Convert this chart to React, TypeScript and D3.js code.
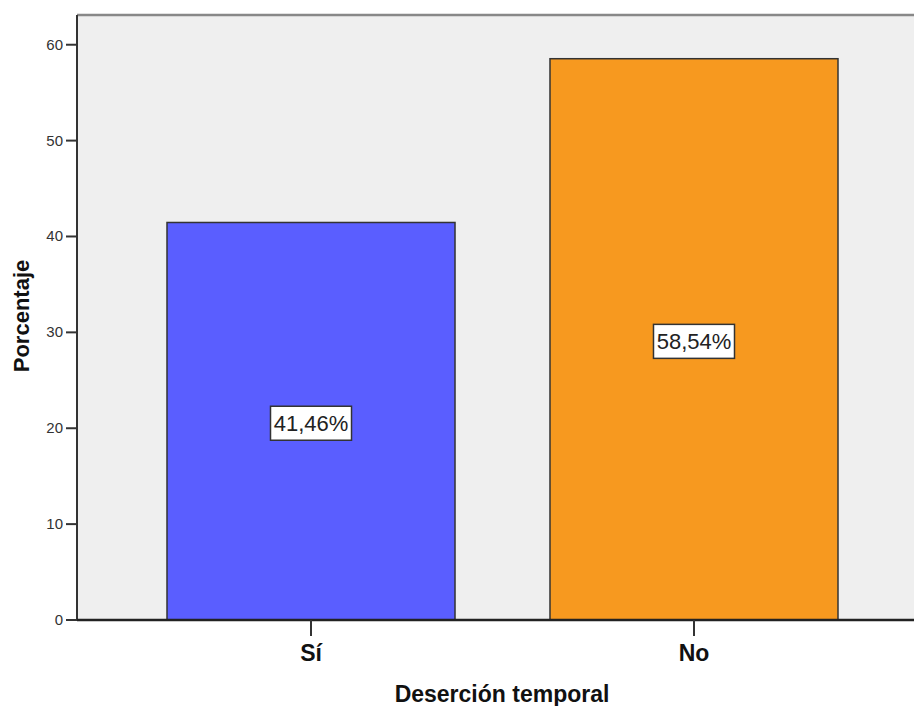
import * as d3 from "d3";

// data
const categories = ["Sí", "No"];
const percents = [41.46, 58.54];
const percentLabels = ["41,46%", "58,54%"];
const yTicks = [0, 10, 20, 30, 40, 50, 60];
const barColors = ["#5A5EFF", "#F7991F"];

const W = 914;
const H = 706;
const plot = { left: 77, top: 15, bottom: 620 };
const font = "'Liberation Sans', Arial, sans-serif";

export default function App() {
  const x = d3.scaleBand<string>()
    .domain(categories)
    .range([plot.left, 928])
    .paddingInner(0.248)
    .paddingOuter(0.235);
  const y = d3.scaleLinear().domain([0, 63.1]).range([plot.bottom, plot.top]);

  return (
    <svg width={W} height={H} style={{ position: "absolute", left: 0, top: 0, background: "#fff" }}>
      {/* plot background */}
      <rect x={plot.left} y={plot.top} width={W - plot.left} height={plot.bottom - plot.top} fill="#EFEFEF" />
      <line x1={plot.left} x2={W} y1={plot.top} y2={plot.top} stroke="#888" strokeWidth={2.5} />

      {/* bars */}
      {categories.map((c, i) => (
        <g key={c}>
          <rect
            x={x(c)}
            y={y(percents[i])}
            width={x.bandwidth()}
            height={y(0) - y(percents[i])}
            fill={barColors[i]}
            stroke="#333"
            strokeWidth={1.5}
          />
        </g>
      ))}

      {/* value labels */}
      {categories.map((c, i) => {
        const cx = (x(c) ?? 0) + x.bandwidth() / 2;
        const cy = y(percents[i] / 2) + 2;
        const bw = 81;
        const bh = 34;
        return (
          <g key={c + "-lab"}>
            <rect x={cx - bw / 2} y={cy - bh / 2} width={bw} height={bh} fill="#fff" stroke="#333" strokeWidth={1.5} />
            <text x={cx} y={cy + 8} textAnchor="middle" fontFamily={font} fontSize={22} fill="#222">
              {percentLabels[i]}
            </text>
          </g>
        );
      })}

      {/* y axis */}
      <line x1={plot.left} x2={plot.left} y1={plot.top} y2={plot.bottom} stroke="#333" strokeWidth={2} />
      {yTicks.map(t => (
        <g key={t}>
          <line x1={66} x2={plot.left} y1={y(t)} y2={y(t)} stroke="#333" strokeWidth={2} />
          <text x={63} y={y(t) + 5} textAnchor="end" fontFamily={font} fontSize={15} fill="#333">
            {t}
          </text>
        </g>
      ))}

      {/* x axis */}
      <line x1={plot.left} x2={W} y1={plot.bottom} y2={plot.bottom} stroke="#222" strokeWidth={2.5} />
      {categories.map(c => {
        const cx = (x(c) ?? 0) + x.bandwidth() / 2;
        return (
          <g key={c + "-tick"}>
            <line x1={cx} x2={cx} y1={plot.bottom} y2={636} stroke="#333" strokeWidth={2} />
            <text x={cx} y={661} textAnchor="middle" fontFamily={font} fontSize={23} fontWeight="bold" fill="#111">
              {c}
            </text>
          </g>
        );
      })}

      {/* axis titles */}
      <text x={502} y={702} textAnchor="middle" fontFamily={font} fontSize={23} fontWeight="bold" fill="#111">
        Deserción temporal
      </text>
      <text
        transform={`translate(29,316) rotate(-90)`}
        textAnchor="middle"
        fontFamily={font}
        fontSize={22}
        fontWeight="bold"
        fill="#111"
      >
        Porcentaje
      </text>
    </svg>
  );
}
